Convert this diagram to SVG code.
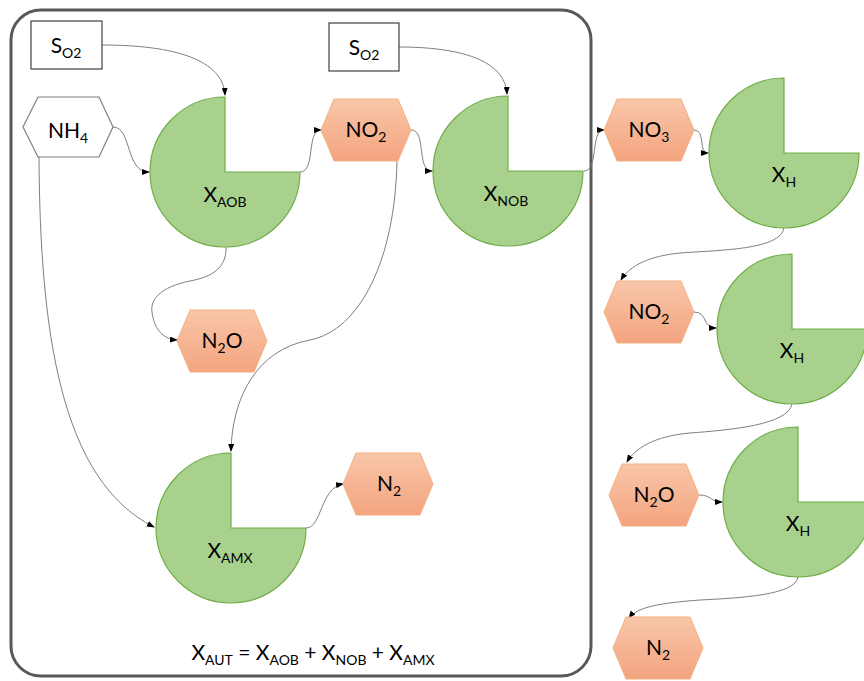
<svg xmlns="http://www.w3.org/2000/svg" width="864" height="681" viewBox="0 0 864 681">
<defs>
<linearGradient id="og" x1="0" y1="0" x2="0" y2="1">
<stop offset="0" stop-color="#f8c6a9"/>
<stop offset="1" stop-color="#f4a47f"/>
</linearGradient>
<marker id="ah" markerWidth="8" markerHeight="6" refX="7" refY="3" orient="auto" markerUnits="userSpaceOnUse">
<path d="M0,0 L8,3 L0,6 Z" fill="#000"/>
</marker>
<style>
.t{font-family:Lato,"Open Sans","Liberation Sans",sans-serif;font-size:21px;fill:#000;text-anchor:middle}
.s{font-size:14px}
.pac{fill:#a9d18e;stroke:#70ad47;stroke-width:1.2}
.hex{fill:url(#og);stroke:#f4b183;stroke-width:1}
.c{fill:none;stroke:#7f7f7f;stroke-width:1;marker-end:url(#ah)}
.box{fill:#fff;stroke:#404040;stroke-width:1.2}
</style>
</defs>
<rect x="11" y="10" width="580" height="666" rx="30" fill="none" stroke="#595959" stroke-width="3"/>

<g id="connectors">
<path class="c" d="M102,45 C175,45 223,60 225,95"/>
<path class="c" d="M113,127 C132,127 125,172 149,172"/>
<path class="c" d="M300,172 C316,172 306,130 321,130"/>
<path class="c" d="M411,130 C427,130 416,171 432,171"/>
<path class="c" d="M399,47 C460,47 505,60 507,94"/>
<path class="c" d="M584,171 C599,171 590,130 604,130"/>
<path class="c" d="M694,130 C706,130 698,153 708,153"/>
<path class="c" d="M784,228 C780,250 720,250 680,253 C650,256 630,265 621,280"/>
<path class="c" d="M694,312 C708,312 702,328 716,328"/>
<path class="c" d="M792,404 C788,425 730,430 690,433 C655,436 635,448 627,462"/>
<path class="c" d="M699,495 C712,495 710,502 722,502"/>
<path class="c" d="M798,577 C796,595 740,598 700,600 C660,603 637,607 629,618"/>
<path class="c" d="M226,247 C227,272 205,278 190,281 C160,287 150,300 152,312 C154,328 162,339 177,340"/>
<path class="c" d="M397,161 C395,260 360,330 310,340 C255,350 232,400 231,451"/>
<path class="c" d="M39,157 C40,330 60,480 154,527"/>
<path class="c" d="M306,528 C322,528 320,488 343,484"/>
</g>

<g id="so2a">
<rect class="box" x="31" y="21" width="71" height="48"/>
<text class="t" x="66" y="53">S<tspan class="s" dy="5">O2</tspan></text>
</g>
<g id="so2b">
<rect class="box" x="329" y="23" width="70" height="48"/>
<text class="t" x="364" y="55">S<tspan class="s" dy="5">O2</tspan></text>
</g>
<g id="nh4">
<path d="M23,127 L38,97 L99,97 L113,127 L99,157 L38,157 Z" fill="#fff" stroke="#7f7f7f" stroke-width="1.2"/>
<text class="t" x="68" y="138">NH<tspan class="s" dy="5">4</tspan></text>
</g>

<g id="xaob">
<path class="pac" d="M225,172 L225,97 A75,75 0 1 0 300,172 Z"/>
<text class="t" x="225" y="202">X<tspan class="s" dy="5">AOB</tspan></text>
</g>
<g id="no2a">
<path class="hex" d="M321,130 L334,99 L398,99 L411,130 L398,161 L334,161 Z"/>
<text class="t" x="366" y="137">NO<tspan class="s" dy="5">2</tspan></text>
</g>
<g id="xnob">
<path class="pac" d="M508,171 L508,96 A75,75 0 1 0 583,171 Z"/>
<text class="t" x="506" y="201">X<tspan class="s" dy="5">NOB</tspan></text>
</g>
<g id="no3">
<path class="hex" d="M604,130 L617,99 L681,99 L694,130 L681,161 L617,161 Z"/>
<text class="t" x="649" y="137">NO<tspan class="s" dy="5">3</tspan></text>
</g>
<g id="xh1">
<path class="pac" d="M784,153 L784,78 A75,75 0 1 0 859,153 Z"/>
<text class="t" x="784" y="182">X<tspan class="s" dy="5">H</tspan></text>
</g>
<g id="no2b">
<path class="hex" d="M604,312 L617,281 L681,281 L694,312 L681,343 L617,343 Z"/>
<text class="t" x="649" y="319">NO<tspan class="s" dy="5">2</tspan></text>
</g>
<g id="xh2">
<path class="pac" d="M792,329 L792,254 A75,75 0 1 0 867,329 Z"/>
<text class="t" x="792" y="358">X<tspan class="s" dy="5">H</tspan></text>
</g>
<g id="n2ob">
<path class="hex" d="M609,495 L622,464 L686,464 L699,495 L686,526 L622,526 Z"/>
<text class="t" x="654" y="502">N<tspan class="s" dy="5">2</tspan><tspan dy="-5">O</tspan></text>
</g>
<g id="xh3">
<path class="pac" d="M798,502 L798,427 A75,75 0 1 0 873,502 Z"/>
<text class="t" x="798" y="531">X<tspan class="s" dy="5">H</tspan></text>
</g>
<g id="n2b">
<path class="hex" d="M613,648 L626,617 L690,617 L703,648 L690,679 L626,679 Z"/>
<text class="t" x="658" y="655">N<tspan class="s" dy="5">2</tspan></text>
</g>

<g id="n2oa">
<path class="hex" d="M177,341 L190,310 L254,310 L267,341 L254,372 L190,372 Z"/>
<text class="t" x="222" y="348">N<tspan class="s" dy="5">2</tspan><tspan dy="-5">O</tspan></text>
</g>
<g id="xamx">
<path class="pac" d="M231,528 L231,453 A75,75 0 1 0 306,528 Z"/>
<text class="t" x="230" y="558">X<tspan class="s" dy="5">AMX</tspan></text>
</g>
<g id="n2a">
<path class="hex" d="M343,484 L356,453 L420,453 L433,484 L420,515 L356,515 Z"/>
<text class="t" x="389" y="491">N<tspan class="s" dy="5">2</tspan></text>
</g>

<g id="formula">
<text class="t" x="313" y="660">X<tspan class="s" dy="5">AUT</tspan><tspan dy="-5"> = X</tspan><tspan class="s" dy="5">AOB</tspan><tspan dy="-5"> + X</tspan><tspan class="s" dy="5">NOB</tspan><tspan dy="-5"> + X</tspan><tspan class="s" dy="5">AMX</tspan></text>
</g>
</svg>
